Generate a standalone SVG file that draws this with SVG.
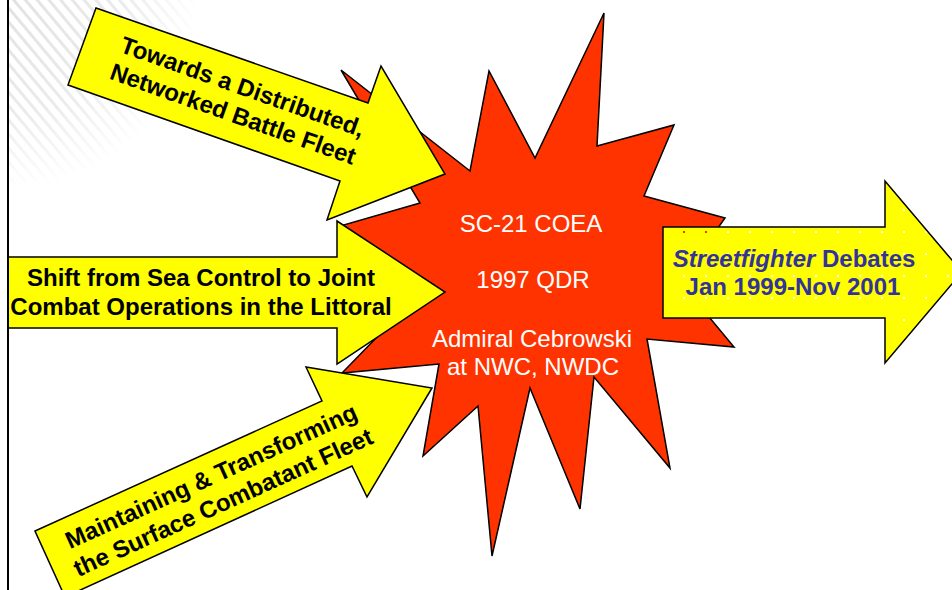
<svg xmlns="http://www.w3.org/2000/svg" width="952" height="590" viewBox="0 0 952 590">
  <style>
    .arrow { fill: #FFFF00; stroke: #000; stroke-width: 1.5; stroke-linejoin: miter; }
    .burst { fill: #FF3300; stroke: #000; stroke-width: 1.5; stroke-linejoin: miter; }
    .lbl { font-family: "Liberation Sans", Arial, sans-serif; font-size: 24px; font-weight: bold; fill: #000; text-anchor: middle; }
    .blbl { font-family: "Liberation Sans", Arial, sans-serif; font-size: 24px; fill: #FFFFFF; text-anchor: middle; }
    .rlbl { font-family: "Liberation Sans", Arial, sans-serif; font-size: 24px; font-weight: bold; fill: #333399; text-anchor: middle; }
  </style>
  <defs>
    <pattern id="hatch" width="9" height="9" patternUnits="userSpaceOnUse" patternTransform="rotate(-40)">
      <rect x="0" y="0" width="3" height="9" fill="#e2e2e2"/>
    </pattern>
    <radialGradient id="fade" cx="9" cy="0" r="190" gradientUnits="userSpaceOnUse">
      <stop offset="0" stop-color="#fff" stop-opacity="1"/>
      <stop offset="0.6" stop-color="#fff" stop-opacity="0.7"/>
      <stop offset="1" stop-color="#fff" stop-opacity="0"/>
    </radialGradient>
    <mask id="hmask">
      <rect x="0" y="0" width="952" height="590" fill="url(#fade)"/>
    </mask>
    <pattern id="dots" width="22" height="22" patternUnits="userSpaceOnUse" x="683" y="231">
      <rect x="0" y="0" width="22" height="22" fill="#FFFF00"/>
      <rect x="0" y="0" width="2" height="2" fill="#FFFFFF"/>
    </pattern>
  </defs>

  <rect x="0" y="0" width="952" height="590" fill="#FFFFFF"/>
  <rect x="9" y="0" width="200" height="190" fill="url(#hatch)" mask="url(#hmask)"/>

  <g id="burst">
    <polygon class="burst" points="604,13 597,146 674,125 644,196 725,218 680,282 734,347 647,339 670,468 594,377 580,509 530,388 492,556 478,406 423,456 439,364 342,373 415,298 340,226 420,203 341,70 470,171 489,71 535,158"/>
    <text class="blbl" x="531" y="231.7">SC-21 COEA</text>
    <text class="blbl" x="533" y="288.3">1997 QDR</text>
    <text class="blbl" x="532" y="346.7">Admiral Cebrowski</text>
    <text class="blbl" x="533" y="375">at NWC, NWDC</text>
  </g>

  <g id="connectors">
    <g id="arrow-top">
      <polygon class="arrow" points="96,8 368,103 381,66 445,174 327,220 340,181 68,85"/>
      <g transform="translate(238,100) rotate(19.5)">
        <text class="lbl" x="0" y="-5.8">Towards a Distributed,</text>
        <text class="lbl" x="0" y="23">Networked Battle Fleet</text>
      </g>
    </g>
    <g id="arrow-middle">
      <polygon class="arrow" points="8,257 337,257 337,221 445,292 337,364 337,328 8,328"/>
      <text class="lbl" x="201" y="286">Shift from Sea Control to Joint</text>
      <text class="lbl" x="201" y="315">Combat Operations in the Littoral</text>
    </g>
    <g id="arrow-bottom">
      <polygon class="arrow" points="35,531 322,401 306,367 432,388 367,497 352,466 65,597"/>
      <g transform="translate(217,489) rotate(-24.4)">
        <text class="lbl" x="0" y="-5.8">Maintaining &amp; Transforming</text>
        <text class="lbl" x="0" y="23">the Surface Combatant Fleet</text>
      </g>
    </g>
    <g id="arrow-right">
      <polygon class="arrow" points="663,227 885,227 885,181 962,272 885,363 885,318 663,318" fill="url(#dots)" style="fill:url(#dots)"/>
      <rect x="683" y="231" width="2" height="2" fill="#FF3300"/>
      <rect x="705" y="231" width="2" height="2" fill="#FF3300"/>
      <text class="rlbl" x="794" y="266.7"><tspan font-style="italic">Streetfighter</tspan> Debates</text>
      <text class="rlbl" x="793" y="295">Jan 1999-Nov 2001</text>
    </g>
  </g>

  <line x1="8" y1="0" x2="8" y2="590" stroke="#000" stroke-width="2"/>
</svg>
